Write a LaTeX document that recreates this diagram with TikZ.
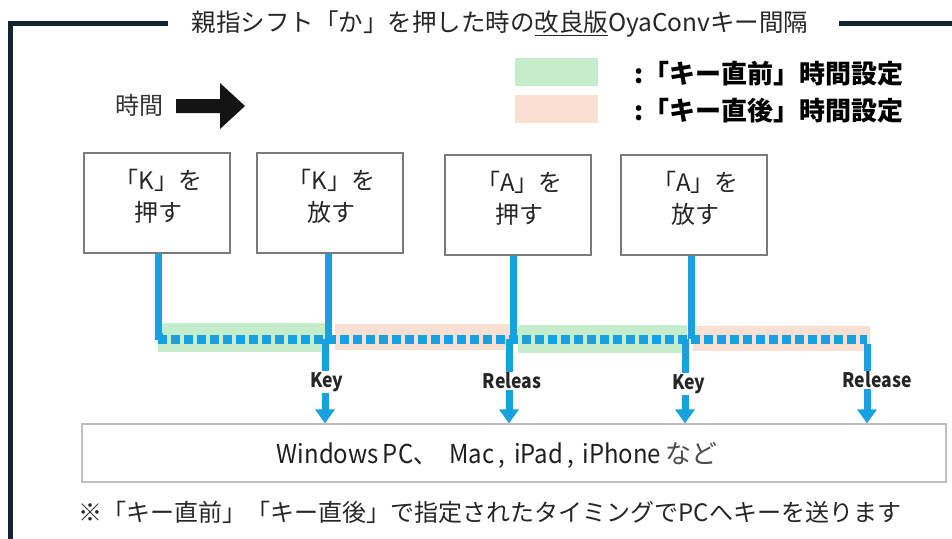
\documentclass[tikz,border=0pt]{standalone}
\usepackage{fontspec}
\setmainfont{Noto Sans CJK JP}
\newfontfamily\labfont[FakeStretch=0.88]{Noto Sans CJK JP}
\newfontfamily\narrowfont[FakeStretch=0.92]{Noto Sans CJK JP}
\usetikzlibrary{arrows.meta}
\definecolor{frame}{HTML}{13262E}
\definecolor{lineblue}{HTML}{17A1E1}
\definecolor{bandgreen}{HTML}{C6EDCB}
\definecolor{bandpink}{HTML}{FADFD3}
\definecolor{boxgray}{HTML}{7A7A7A}
\definecolor{pcgray}{HTML}{BDBDBD}
\tikzset{
  keybox/.style={draw=boxgray, line width=2pt, minimum width=146pt, minimum height=100pt, inner sep=0pt},
  boxtext/.style={font=\fontsize{24}{32}\selectfont, align=center, text=black!85},
  blueline/.style={draw=lineblue, line width=7pt},
  dashline/.style={draw=lineblue, line width=9pt, dash pattern=on 8.5pt off 4.5pt},
  sendarrow/.style={draw=lineblue, line width=7pt, -{Triangle[width=19pt,length=14pt]}},
  keylabel/.style={font=\labfont\bfseries\fontsize{20}{24}\selectfont, text=black!85, inner sep=1pt},
  legendtext/.style={font=\bfseries\fontsize{26}{30}\selectfont, anchor=west, inner sep=0pt},
}
\begin{document}
\begin{tikzpicture}[x=1pt, y=-1pt]
\useasboundingbox (0,0) rectangle (952,538);
% frame
\draw[frame, line width=5pt] (168,23.5) -- (10.5,23.5) -- (10.5,540);
\draw[frame, line width=5pt] (839,23.5) -- (954,23.5);
\node[font=\fontsize{24.5}{28}\selectfont, text=black!85] (title) at (500,24) {親指シフト「か」を押した時の\underline{改良版}OyaConvキー間隔};
% time arrow
\node[font=\fontsize{24}{28}\selectfont, text=black!80] (time) at (139,105) {時間};
\fill[black!92] (176,99) -- (220,99) -- (220,83) -- (245,106) -- (220,129) -- (220,113) -- (176,113) -- cycle;
% legend
\fill[bandgreen] (515,58) rectangle (598,86);
\fill[bandpink] (515,95) rectangle (598,123);
\node[legendtext] (lg1) at (634,74) {:「キー直前」時間設定};
\node[legendtext] (lg2) at (634,111) {:「キー直後」時間設定};
% bands
\fill[bandgreen] (158,323) rectangle (328,352);
\fill[bandpink] (335,324) rectangle (510,350);
\fill[bandgreen] (518,325) rectangle (687,353);
\fill[bandpink] (693,326) rectangle (870,351);
% boxes
\node[keybox] (b1) at (156.5,202.5) {};
\node[keybox] (b2) at (329.5,202.5) {};
\node[keybox] (b3) at (517.5,204.5) {};
\node[keybox] (b4) at (693.5,204.5) {};
\node[boxtext] (t1) at (158.5,196) {「K」を\\押す};
\node[boxtext] (t2) at (331.5,196) {「K」を\\放す};
\node[boxtext] (t3) at (519.5,198) {「A」を\\押す};
\node[boxtext] (t4) at (695.5,198) {「A」を\\放す};
% junction coordinates
\coordinate (c1) at (158,339);
\coordinate (c5) at (867,339);
\coordinate (j2) at (327,339);
\coordinate (j3) at (511,339);
\coordinate (j4) at (688,339);
% dashed line and verticals
\draw[dashline] (c1) -- (c5);
\draw[blueline] (b1.south -| c1) -- ([yshift=3pt]c1) -- ([xshift=5pt,yshift=3pt]c1);
\draw[blueline] ([xshift=-1pt]b2.south) -- ([xshift=-1pt]b2.south |- j2);
\draw[blueline] ([xshift=-4.5pt]b3.south) -- ([xshift=-4.5pt]b3.south |- j3);
\draw[blueline] ([xshift=-2.5pt]b4.south) -- ([xshift=-2.5pt]b4.south |- j4);
% bottom PC box
\node[draw=pcgray, line width=1.3pt, minimum width=864pt, minimum height=58pt, inner sep=0pt] (pc) at (514,453) {};
\node[font=\fontsize{26}{28}\selectfont, text=black!88, inner sep=0pt] (pct) at (497,455) {{\narrowfont Windows\,PC、\hspace{12pt}Mac\,,\,\,iPad\,,\,\,iPhone}\hspace{4pt}{\color{black!70}など}};
% labels
\node[keylabel] (l2) at (327,382) {Key};
\node[keylabel] (l3) at (512,381) {Releas};
\node[keylabel] (l4) at (689,384) {Key};
\node[keylabel] (l5) at (877,380) {Release};
% down segments
\draw[blueline] ([xshift=-2pt]j2) -- ([xshift=-2pt]j2 |- l2.north);
\draw[blueline] ([xshift=-2pt]j3) -- ([xshift=-2pt]j3 |- l3.north);
\draw[blueline] ([xshift=-3pt]j4) -- ([xshift=-3pt]j4 |- l4.north);
\draw[blueline] ([yshift=-4.5pt]c5) -- (c5 |- l5.north);
% send arrows
\draw[sendarrow] ([xshift=-2pt]j2 |- l2.south) -- ([xshift=-2pt]j2 |- pc.north);
\draw[sendarrow] ([xshift=-2pt]j3 |- l3.south) -- ([xshift=-2pt]j3 |- pc.north);
\draw[sendarrow] ([xshift=-3pt]j4 |- l4.south) -- ([xshift=-3pt]j4 |- pc.north);
\draw[sendarrow] (c5 |- l5.south) -- (c5 |- pc.north);
% footer
\node[font=\fontsize{24}{28}\selectfont, text=black!85] (note) at (490,512) {※「キー直前」「キー直後」で指定されたタイミングでPCへキーを送ります};
\end{tikzpicture}
\end{document}
